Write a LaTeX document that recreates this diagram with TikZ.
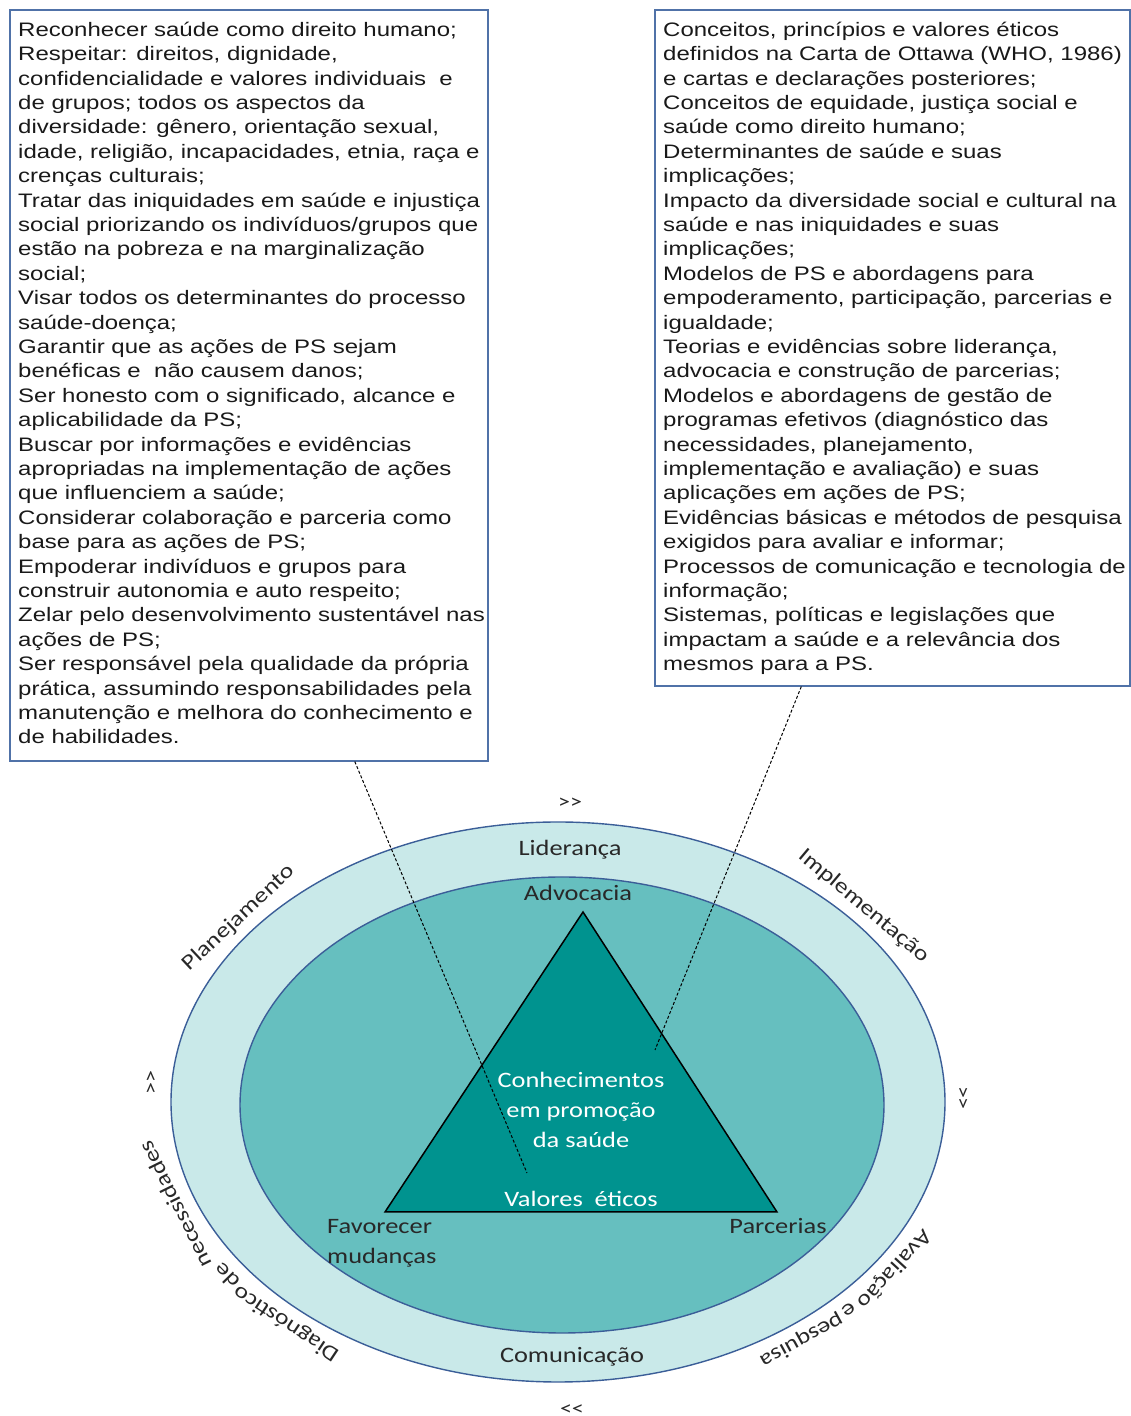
\documentclass[tikz,border=0pt]{standalone}
\usepackage{fontspec}
\setmainfont{Liberation Sans}
\newfontfamily\boxfont[FakeStretch=1.23]{Liberation Sans}
\newfontfamily\ringfont[FakeStretch=1.2]{Carlito}
\usetikzlibrary{positioning,shapes.geometric,calc}
\definecolor{ringlight}{RGB}{201,233,233}
\definecolor{ringmid}{RGB}{102,191,191}
\definecolor{triteal}{RGB}{0,147,143}
\definecolor{edgeblue}{RGB}{59,94,152}
\definecolor{boxblue}{RGB}{80,114,168}
\definecolor{labelgrey}{RGB}{40,40,40}

\begin{document}
\begin{tikzpicture}[
  x=1pt, y=1pt,
  % Styles
  every node/.style={inner sep=0pt},
  listbox/.style={
    draw=boxblue,
    line width=1.6pt,
    fill=white,
    anchor=north west
  },
  listtext/.style={
    anchor=north west,
    align=left,
    text=black!90,
    font=\boxfont\fontsize{19.5}{24.4}\selectfont
  },
  ring/.style={ellipse, draw=edgeblue, line width=1.4pt},
  ringlabel/.style={font=\ringfont\fontsize{22}{30}\selectfont, text=labelgrey},
  cyclelabel/.style={font=\ringfont\fontsize{21.5}{24}\selectfont, text=labelgrey, anchor=base},
  trilabel/.style={font=\ringfont\fontsize{22}{30}\selectfont, text=white, align=center},
  flowmark/.style={font=\ringfont\fontsize{20}{20}\selectfont, text=labelgrey},
  dotline/.style={line width=1pt, dash pattern=on 3pt off 2pt}
]
\useasboundingbox (0,0) rectangle (1131,1416);

% Left list box
\node[listbox, minimum width=478pt, minimum height=751pt] (lbox) at (9,1407) {};
\node[listtext] (ltext) at ([xshift=9pt,yshift=-10pt]lbox.north west) {\strut Reconhecer saúde como direito humano;\\
Respeitar: direitos, dignidade,\\
confidencialidade e valores individuais~ e\\
de grupos; todos os aspectos da\\
diversidade: gênero, orientação sexual,\\
idade, religião, incapacidades, etnia, raça e\\
crenças culturais;\\
Tratar das iniquidades em saúde e injustiça\\
social priorizando os indivíduos/grupos que\\
estão na pobreza e na marginalização\\
social;\\
Visar todos os determinantes do processo\\
saúde-doença;\\
Garantir que as ações de PS sejam\\
benéficas e~ não causem danos;\\
Ser honesto com o significado, alcance e\\
aplicabilidade da PS;\\
Buscar por informações e evidências\\
apropriadas na implementação de ações\\
que influenciem a saúde;\\
Considerar colaboração e parceria como\\
base para as ações de PS;\\
Empoderar indivíduos e grupos para\\
construir autonomia e auto respeito;\\
Zelar pelo desenvolvimento sustentável nas\\
ações de PS;\\
Ser responsável pela qualidade da própria\\
prática, assumindo responsabilidades pela\\
manutenção e melhora do conhecimento e\\
de habilidades.};

% Right list box
\node[listbox, minimum width=475pt, minimum height=676pt] (rbox) at (654,1407) {};
\node[listtext] (rtext) at ([xshift=9pt,yshift=-10pt]rbox.north west) {\strut Conceitos, princípios e valores éticos\\
definidos na Carta de Ottawa (WHO, 1986)\\
e cartas e declarações posteriores;\\
Conceitos de equidade, justiça social e\\
saúde como direito humano;\\
Determinantes de saúde e suas\\
implicações;\\
Impacto da diversidade social e cultural na\\
saúde e nas iniquidades e suas\\
implicações;\\
Modelos de PS e abordagens para\\
empoderamento, participação, parcerias e\\
igualdade;\\
Teorias e evidências sobre liderança,\\
advocacia e construção de parcerias;\\
Modelos e abordagens de gestão de\\
programas efetivos (diagnóstico das\\
necessidades, planejamento,\\
implementação e avaliação) e suas\\
aplicações em ações de PS;\\
Evidências básicas e métodos de pesquisa\\
exigidos para avaliar e informar;\\
Processos de comunicação e tecnologia de\\
informação;\\
Sistemas, políticas e legislações que\\
impactam a saúde e a relevância dos\\
mesmos para a PS.};

% Rings
\coordinate (ringc) at (558,314);
\node[ring, fill=ringlight, minimum width=774pt, minimum height=560pt] (outer) at (ringc) {};
\node[ring, fill=ringmid, minimum width=644pt, minimum height=456pt] (inner) at (562,311) {};

% Triangle
\coordinate (apex) at (583,504);
\coordinate (baseL) at (385,204);
\coordinate (baseR) at (777,204);
\draw[line width=1.5pt, fill=triteal] (apex) -- (baseR) -- (baseL) -- cycle;

% Ring labels
\node[ringlabel] (lider) at (570,566) {Liderança};
\node[ringlabel] (advoc) at (578,523) {Advocacia};
\node[ringlabel] (comun) at (572,59) {Comunicação};
\node[ringlabel, align=left, anchor=west] (favor) at (327,173) {Favorecer\\mudanças};
\node[ringlabel] (parc) at (778,190) {Parcerias};

% Triangle labels
\node[trilabel] (conhec) at (581,306) {Conhecimentos\\em promoção\\da saúde};
\node[trilabel] (valores) at (581,217) {Valores~ éticos};

% Cycle labels round the outer ring
\node[cyclelabel, rotate=43.05] (plan) at ($(ringc)+(142:400pt and 292pt)$) {Planejamento};
\node[cyclelabel, rotate=-40] (impl) at ($(ringc)+(41:400pt and 292pt)$) {Implementação};
\node[cyclelabel, rotate=-132.6] (aval1) at ($(ringc)+(-33.9:400pt and 292pt)$) {Avaliação};
\node[cyclelabel, rotate=-143] (aval2) at ($(ringc)+(-44.1:400pt and 292pt)$) {e};
\node[cyclelabel, rotate=-151.2] (aval3) at ($(ringc)+(-53:400pt and 292pt)$) {pesquisa};
\node[cyclelabel, rotate=146.5] (diag1) at ($(ringc)+(-132.2:400pt and 292pt)$) {Diagnóstico};
\node[cyclelabel, rotate=134.2] (diag2) at ($(ringc)+(-144.6:400pt and 292pt)$) {de};
\node[cyclelabel, rotate=116.4] (diag3) at ($(ringc)+(-160.1:400pt and 292pt)$) {necessidades};

% Flow marks
\node[flowmark] (mtop) at (570,613) {>>};
\node[flowmark, rotate=-90] (mright) at (962,318) {>>};
\node[flowmark, rotate=180] (mbot) at (572,8) {>>};
\node[flowmark, rotate=90] (mleft) at (152,333) {>>};

% Links from the boxes
\coordinate (valend) at (527,243);
\coordinate (conend) at (655,366);
\draw[dotline] ([xshift=106pt]lbox.south) -- (valend);
\draw[dotline] ([xshift=-91pt]rbox.south) -- (conend);

\end{tikzpicture}
\end{document}
